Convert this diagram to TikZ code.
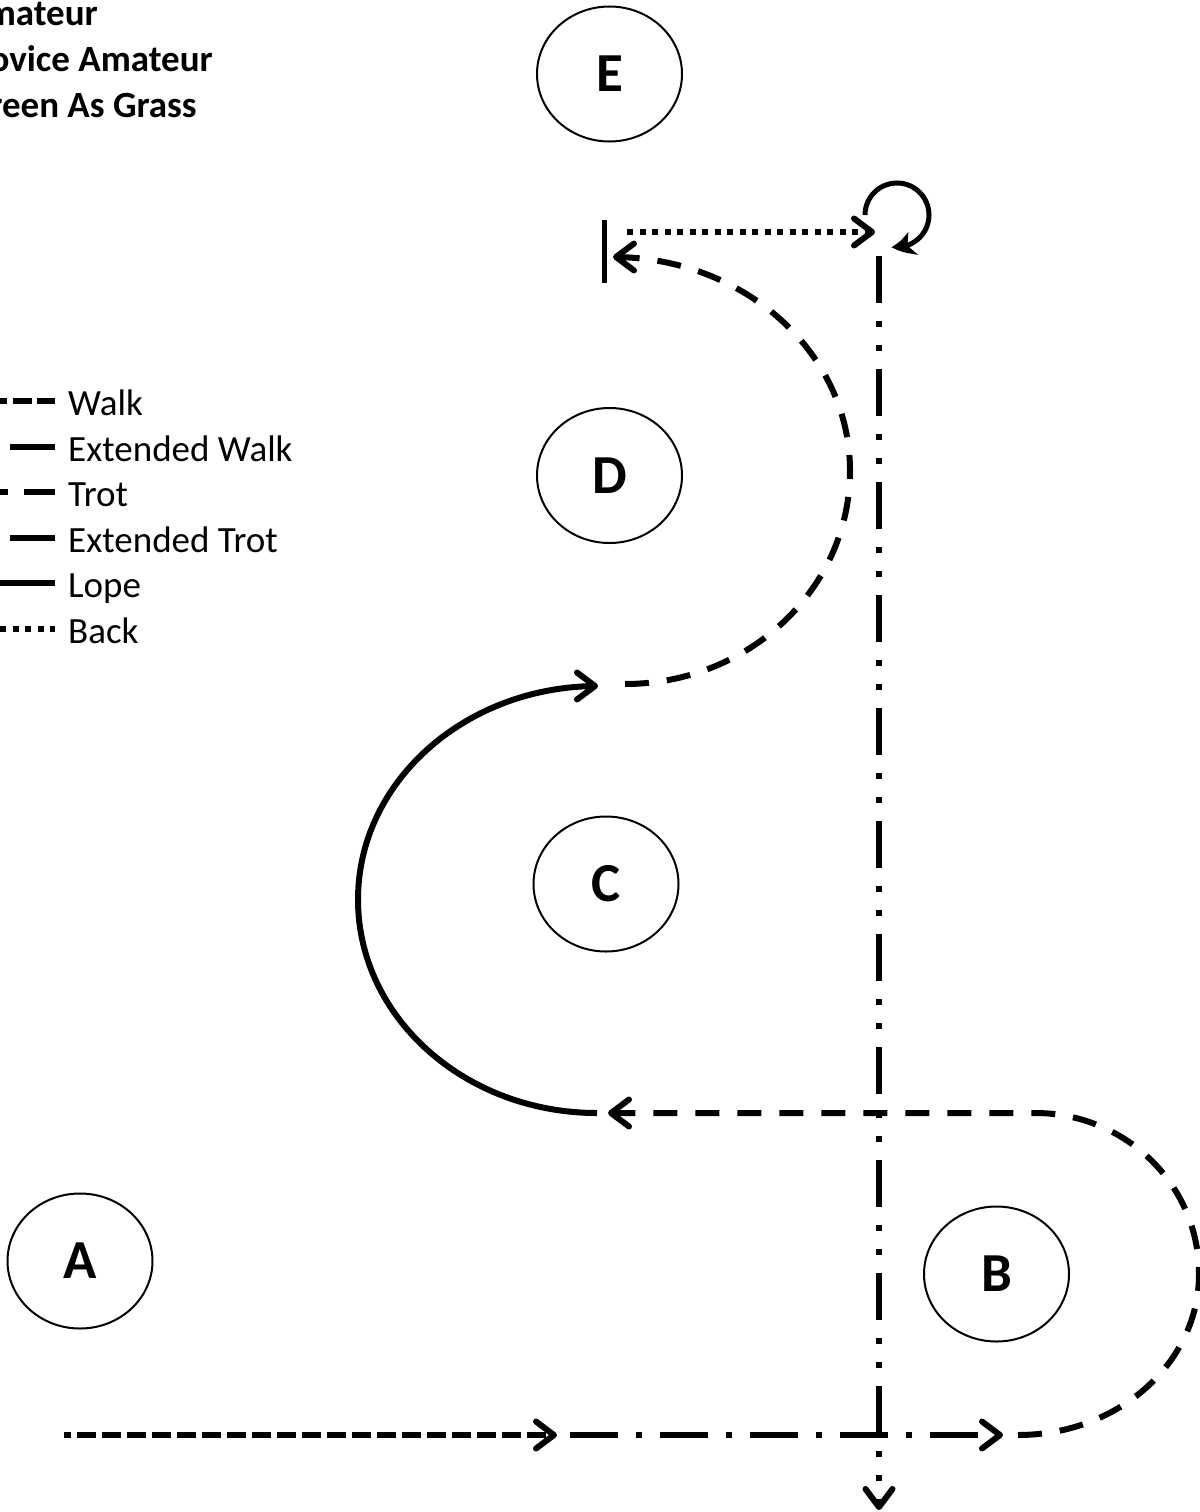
\documentclass[tikz,border=0pt]{standalone}
\usepackage{fontspec}
\setmainfont{Carlito}
\usetikzlibrary{arrows.meta,shapes.geometric,bending}
\begin{document}
\begin{tikzpicture}[x=1pt,y=-1pt,
  spot/.style={draw, ellipse, line width=2pt, minimum width=145pt, minimum height=135pt, inner sep=0pt, font=\bfseries\fontsize{55}{66}\selectfont},
  ttl/.style={anchor=base east, inner sep=0pt, font=\bfseries\fontsize{37}{44}\selectfont},
  lgd/.style={anchor=base west, inner sep=0pt, font=\fontsize{37}{44}\selectfont},
  walkln/.style={line width=6pt, dash pattern=on 19pt off 6pt},
  trotln/.style={line width=6pt, dash pattern=on 24pt off 18pt},
  etrotln/.style={line width=6pt, dash pattern=on 48pt off 18pt on 6pt off 18pt},
  ewalkln/.style={line width=6pt, dash pattern=on 47pt off 18pt on 6pt off 18pt on 6pt off 18pt},
  lopeln/.style={line width=6pt},
  backln/.style={line width=6pt, dash pattern=on 6pt off 6.5pt},
  chev/.style={-{Straight Barb[length=18pt,width=27pt,round]}}
]
\useasboundingbox (0,0) rectangle (1199,1512);

% title
\node[ttl] (t1) at (98,26) {Amateur};
\node[ttl] (t2) at (213,71.5) {Novice Amateur};
\node[ttl] (t3) at (197,117) {Green As Grass};

% legend
\draw[line width=6pt] (0,401) -- (7,401) (13,401) -- (32,401) (37,401) -- (55,401);
\node[lgd] (lw) at (68,415) {Walk};
\draw[line width=6pt] (10,447) -- (55,447);
\node[lgd] (lew) at (68,461) {Extended Walk};
\draw[line width=6pt] (0,492) -- (8,492) (24,492) -- (55,492);
\node[lgd] (lt) at (68,506) {Trot};
\draw[line width=6pt] (10,538) -- (55,538);
\node[lgd] (let) at (68,552) {Extended Trot};
\draw[line width=6pt] (0,583) -- (55,583);
\node[lgd] (ll) at (68,597) {Lope};
\draw[backln] (0,629) -- (55,629);
\node[lgd] (lb) at (68,643) {Back};

% markers
\node[spot] (E) at (609.5,74) {E};
\node[spot] (D) at (609.5,475.5) {D};
\node[spot] (C) at (606,884) {C};
\node[spot] (B) at (996.5,1274) {B};
\node[spot] (A) at (80,1261) {A};

% coordinates
\coordinate (w0) at (64,1435);
\coordinate (w1) at (557,1435);
\coordinate (x0) at (570,1435);
\coordinate (x1) at (1003,1435);
\coordinate (b0) at (1018,1435);
\coordinate (b1) at (1199,1274);
\coordinate (b2) at (1035,1113);
\coordinate (b3) at (608,1113);
\coordinate (l0) at (597,1113);
\coordinate (l1) at (358,899.5);
\coordinate (l2) at (598,686);
\coordinate (d0) at (625,684);
\coordinate (d1) at (850,470.5);
\coordinate (d2) at (613,257);
\coordinate (bar0) at (604,220);
\coordinate (bar1) at (604,283);
\coordinate (k0) at (627,232);
\coordinate (k1) at (875,232);
\coordinate (lc) at (897,215);
\coordinate (v0) at (879,256);
\coordinate (v1) at (879,1510);

% walk from A
\draw[walkln, chev, dash phase=12pt] (w0) -- (w1);
% extended trot
\draw[etrotln, chev] (x0) -- (x1);
% trot around B
\draw[trotln, chev] (b0) .. controls (1118,1435) and (1199,1363) .. (b1)
  .. controls (1199,1185) and (1126,1113) .. (b2) -- (b3);
% lope around C
\draw[lopeln, chev] (l0) .. controls (465,1113) and (358,1017.4) .. (l1)
  .. controls (358,781.6) and (465.5,686) .. (l2);
% trot around D
\draw[trotln, chev] (d0) .. controls (749.3,684) and (850,588.4) .. (d1)
  .. controls (850,352.6) and (743.9,257) .. (d2);
% stop bar
\draw[line width=5pt] (bar0) -- (bar1);
% back
\draw[backln, chev] (k0) -- (k1);
% spin
\draw[line width=5pt, -{Stealth[length=22pt,width=24pt,inset=6pt,bend]}] ([xshift=-32pt]lc) arc[start angle=180, end angle=460, radius=32];
% vertical extended walk
\draw[ewalkln, chev] (v0) -- (v1);
\end{tikzpicture}
\end{document}
